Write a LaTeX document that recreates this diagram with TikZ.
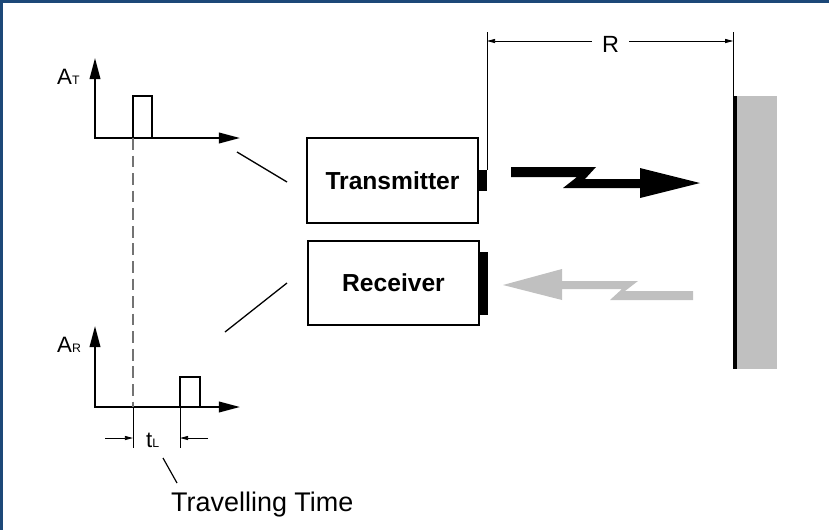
\documentclass[tikz,border=0pt]{standalone}
\usepackage{fontspec}
\setmainfont{Liberation Sans}
\usetikzlibrary{arrows.meta,positioning}
\definecolor{framecol}{RGB}{28,72,120}
\definecolor{meshgray}{RGB}{192,192,192}
\tikzset{
  axes/.style={line width=1.7pt,{Triangle[length=18pt,width=9pt]}-{Triangle[length=18pt,width=9pt]}},
  pulse/.style={line width=1.3pt},
  dimline/.style={line width=0.8pt},
  dimtip/.style={-{Triangle[length=7pt,width=3.5pt]}},
  unit/.style={draw,line width=1.7pt,inner sep=0pt,font=\fontsize{21}{24}\selectfont\bfseries},
  lbl/.style={inner sep=0pt,font=\fontsize{19}{22}\selectfont},
  tab/.style={fill,inner sep=0pt,outer sep=0pt,minimum width=0.24cm,anchor=west},
}
\newcommand{\sublbl}[2]{#1{\fontsize{10.5}{12}\selectfont #2}}
\begin{document}
\begin{tikzpicture}[x=0.03cm,y=-0.03cm]
\useasboundingbox (0,0) rectangle (829,530);
% frame
\fill[framecol] (0,0) rectangle (2.5,530);
\fill[framecol] (0,0) rectangle (829,2.5);
% transmitted pulse
\coordinate (ot) at (95,138);
\draw[axes] (95,58) -- (ot) -- (240,138);
\draw[pulse] (133,138) -- (133,96) -- (152,96) -- (152,138);
\node[lbl,anchor=base west] (atlbl) at (57,84) {\sublbl{A}{T}};
% received pulse
\coordinate (or) at (95,407);
\draw[axes] (95,326) -- (or) -- (240,407);
\draw[pulse] (180,407) -- (180,377) -- (200,377) -- (200,407);
\node[lbl,anchor=base west] (arlbl) at (57,352) {\sublbl{A}{R}};
% time of flight
\draw[dashed,dash pattern=on 10pt off 5pt,black!55,line width=0.9pt] (133,138) -- (133,407);
\draw[dimline] (133,407) -- (133,448);
\draw[dimline] (180,407) -- (180,448);
\draw[dimline,dimtip] (105,438) -- (133,438);
\draw[dimline,dimtip] (208,438) -- (180,438);
\node[lbl,anchor=base west] (tl) at (146,447) {\sublbl{t}{L}};
\node[inner sep=0pt,anchor=base west,font=\fontsize{23}{27}\selectfont] (tt) at (171,511) {Travelling Time};
\coordinate (tlfoot) at (163,458);
\coordinate (tthead) at (177,483);
\draw[line width=1pt] (tlfoot) -- (tthead);
% units
\node[unit,minimum width=5.13cm,minimum height=2.55cm] (tx) at (392.5,180.5) {Transmitter};
\node[unit,minimum width=5.13cm,minimum height=2.52cm] (rx) at (393.5,283) {Receiver};
\node[tab,minimum height=0.63cm] (txant) at (tx.east) {};
\node[tab,minimum height=1.89cm] (rxant) at (rx.east) {};
% leaders from the plots
\coordinate (tplot) at (237,152);
\coordinate (tlead) at (287,182);
\coordinate (rplot) at (225,332);
\coordinate (rlead) at (287,283);
\draw[line width=1.1pt] (tplot) -- (tlead);
\draw[line width=1.1pt] (rplot) -- (rlead);
% wall
\node[fill=meshgray,inner sep=0pt,outer sep=0pt,minimum width=1.26cm,minimum height=8.19cm,anchor=north west] (wall) at (735,96) {};
\draw[line width=3.4pt] (wall.north west) -- (wall.south west);
% range
\coordinate (rtop) at (610,32);
\coordinate (rdim) at (610,41);
\node[inner sep=0pt,inner xsep=8.5pt,anchor=base,font=\fontsize{20}{24}\selectfont] (rlbl) at (610.5,52.5) {R};
\draw[dimline] (txant.north east) -- (txant.north east |- rtop);
\draw[dimline] ([xshift=-1.5pt]wall.north west) -- ([xshift=-1.5pt]wall.north west |- rtop);
\draw[dimline,dimtip] (rlbl.west |- rdim) -- (txant.north east |- rdim);
\draw[dimline,dimtip] (rlbl.east |- rdim) -- ([xshift=-1.5pt]wall.north west |- rdim);
% transmitted wave
\fill (511,167) -- (596,167) -- (585,179) -- (640,179) -- (640,168) -- (700,183)
  -- (640,198) -- (640,188) -- (563,188) -- (577,177) -- (511,177) -- cycle;
% reflected wave
\fill[meshgray] (503,285) -- (562,269) -- (562,281) -- (638,281) -- (625,291) -- (693,291)
  -- (693,300) -- (610,300) -- (622,289) -- (562,289) -- (562,300) -- cycle;
\end{tikzpicture}
\end{document}
